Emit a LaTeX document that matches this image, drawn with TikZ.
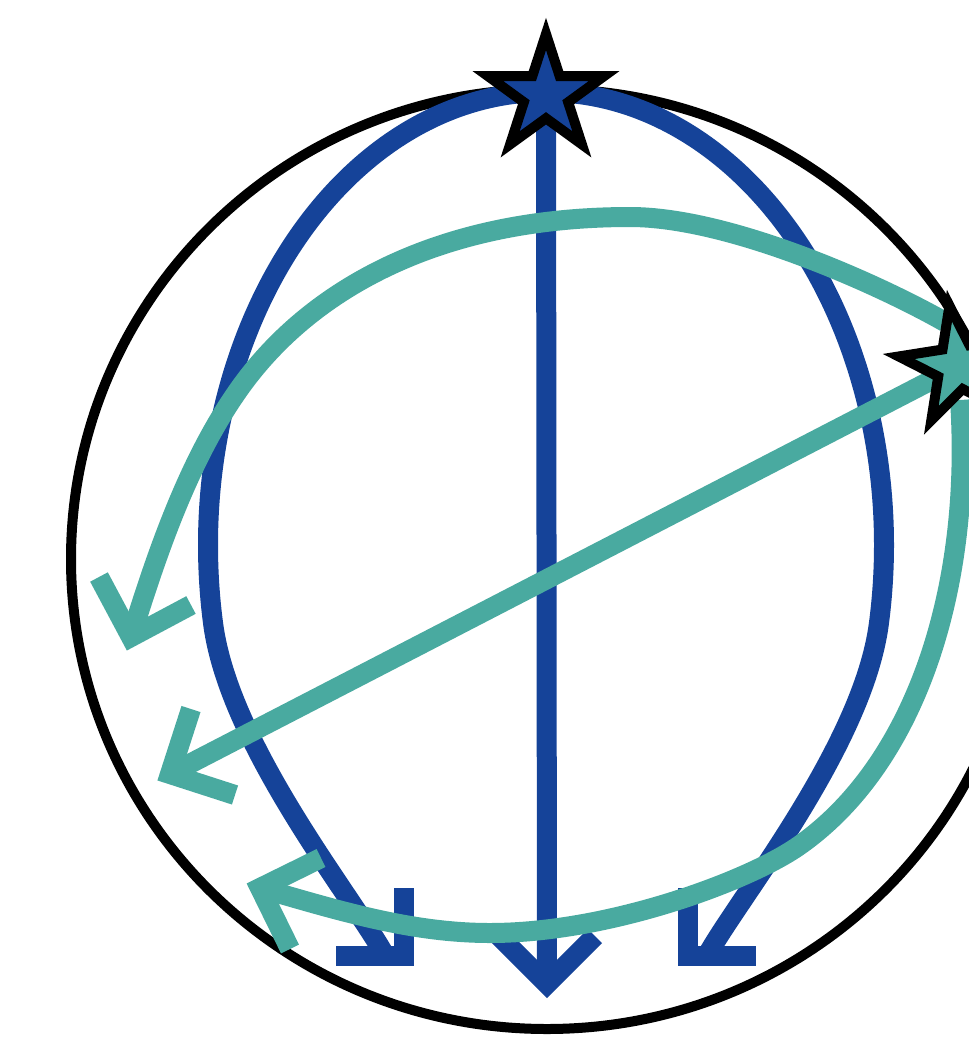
\documentclass[tikz,border=0pt]{standalone}
\usetikzlibrary{shapes.geometric}
\definecolor{cblue}{RGB}{21,67,153}
\definecolor{cgreen}{RGB}{73,170,160}
\begin{document}
\begin{tikzpicture}[x=1pt,y=-1pt,
  bl/.style={draw=cblue, line width=20pt, line cap=butt, line join=round},
  gr/.style={draw=cgreen, line width=20pt, line cap=butt, line join=round},
  headb/.style={draw=cblue, line width=20pt, line cap=butt, line join=miter},
  headg/.style={draw=cgreen, line width=20pt, line cap=butt, line join=miter},
  starnode/.style={star, star points=5, star point ratio=2.618, minimum size=122pt, inner sep=0pt, draw=black, line width=10pt, line join=miter}]
\useasboundingbox (0,0) rectangle (969,1050);
\clip (0,0) rectangle (969,1050);
% sphere outline
\draw[line width=10pt] (547,559) ellipse [x radius=476, y radius=470];
% named points
\coordinate (bs) at (546,95);
\coordinate (gs) at (959,366);
\coordinate (bm) at (547,984);
\coordinate (bl) at (404,956);
\coordinate (br) at (688,956);
\coordinate (gm) at (170,774);
\coordinate (gu) at (131,637);
\coordinate (gl) at (260,888);
% blue meridians
\draw[bl] (545,92) arc[start angle=270, end angle=170, x radius=337, y radius=453]
  .. controls (228.7,742.7) and (348,891.4) .. (383,952);
\draw[bl] (547,92) arc[start angle=270, end angle=370, x radius=337, y radius=453]
  .. controls (863.3,742.7) and (744,891.4) .. (709,952);
\draw[bl] (bs) -- (bm);
\draw[headb] (499,936) -- (bm) -- (595,936);
\draw[headb] (404,888) -- (bl) -- (336,956);
\draw[headb] (688,888) -- (br) -- (756,956);
\node[starnode, fill=cblue] (bstar) at (bs) {};
% green rotation
\draw[gr] (gs) -- (gm);
\draw[headg] (235,795) -- (gm) -- (191,709);
\draw[gr] (945,322) .. controls (880,285) and (730,217) .. (630,217)
  .. controls (430,217) and (302,296) .. (235,395)
  .. controls (187,465) and (156,556) .. (gu);
\draw[headg] (191,605) -- (gu) -- (99,577);
\draw[gr] (960,400) .. controls (972,580) and (920,760) .. (800,845)
  .. controls (751,880) and (610,933) .. (490,933)
  .. controls (410,933) and (337,910) .. (gl);
\draw[headg] (290,949) -- (gl) -- (321,858);
\node[starnode, fill=cgreen, shape border rotate=9] (gstar) at (gs) {};
\end{tikzpicture}
\end{document}
